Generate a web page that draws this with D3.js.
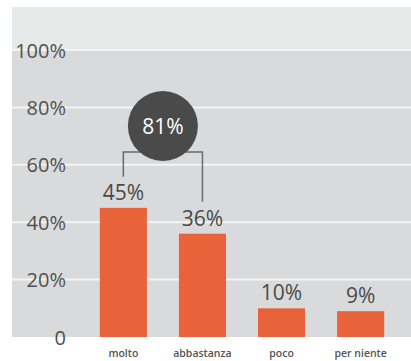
<!DOCTYPE html>
<html><head><meta charset="utf-8">
<script src="https://cdn.jsdelivr.net/npm/d3@7"></script>
<style>body{margin:0;background:#fff}svg{display:block}</style>
</head><body>
<script>
const categories = ["molto", "abbastanza", "poco", "per niente"];
const values = [45, 36, 10, 9];
const yTicks = [0, 20, 40, 60, 80, 100];
const totalLabel = "81%";
const totalGroup = ["molto", "abbastanza"];

const W = 411, H = 361;
const svg = d3.select("body").append("svg").attr("width", W).attr("height", H);

const y = d3.scaleLinear().domain([0, 100]).range([337, 50]);
const x = d3.scaleBand().domain(categories).range([84, 400]).paddingInner(0.405).paddingOuter(0.2);

// panel
svg.append("rect").attr("x", 12).attr("y", 7).attr("width", W - 12).attr("height", y(100) - 7).attr("fill", "#e6eae8");
svg.append("rect").attr("x", 12).attr("y", y(100)).attr("width", W - 12).attr("height", y(0) - y(100)).attr("fill", "#d9dadb");

// gridlines
svg.append("g").selectAll("line").data(yTicks.filter(d => d > 0)).join("line")
  .attr("x1", 12).attr("x2", W).attr("y1", d => y(d)).attr("y2", d => y(d))
  .attr("stroke", "#f4f4f4").attr("stroke-width", 2);

// y labels
const yAxis = d3.axisLeft(y).tickValues(yTicks).tickFormat(d => d === 0 ? "0" : d + "%").tickSize(0).tickPadding(0);
const ga = svg.append("g").attr("transform", "translate(66,0)").call(yAxis);
ga.select(".domain").remove();
ga.selectAll("text").attr("font-family", "'Open Sans', sans-serif").attr("font-size", 20)
  .attr("fill", "#505050").attr("dy", "0.35em");

// bars
svg.append("g").selectAll("rect").data(values).join("rect")
  .attr("x", (d, i) => x(categories[i])).attr("width", x.bandwidth())
  .attr("y", d => y(d)).attr("height", d => y(0) - y(d)).attr("fill", "#e8633a");

// value labels
svg.append("g").selectAll("text").data(values).join("text")
  .attr("x", (d, i) => x(categories[i]) + x.bandwidth() / 2).attr("y", d => y(d) - 8)
  .attr("text-anchor", "middle").attr("font-family", "'Open Sans', sans-serif").attr("font-size", 21)
  .attr("fill", "#4a4a4a").text(d => d + "%");

// category labels
svg.append("g").selectAll("text").data(categories).join("text")
  .attr("x", d => x(d) + x.bandwidth() / 2).attr("y", 357)
  .attr("text-anchor", "middle").attr("font-family", "'Open Sans', sans-serif").attr("font-size", 10.5).attr("font-weight", 600)
  .attr("fill", "#555").text(d => d);

// bracket
const c0 = x(totalGroup[0]) + x.bandwidth() / 2, c1 = x(totalGroup[1]) + x.bandwidth() / 2;
const v0 = values[categories.indexOf(totalGroup[0])], v1 = values[categories.indexOf(totalGroup[1])];
const bracketY = 152;
svg.append("path")
  .attr("d", `M${c0},${y(v0) - 31}V${bracketY}H${c1}V${y(v1) - 32}`)
  .attr("fill", "none").attr("stroke", "#6a6a6a").attr("stroke-width", 1.5);

// circle
const cx = (c0 + c1) / 2;
svg.append("circle").attr("cx", cx).attr("cy", 126).attr("r", 35).attr("fill", "#4a4a4a");
svg.append("text").attr("x", cx).attr("y", 126).attr("dy", "0.36em").attr("text-anchor", "middle")
  .attr("font-family", "'Open Sans', sans-serif").attr("font-size", 21).attr("fill", "#fff").text(totalLabel);
</script>
</body></html>
